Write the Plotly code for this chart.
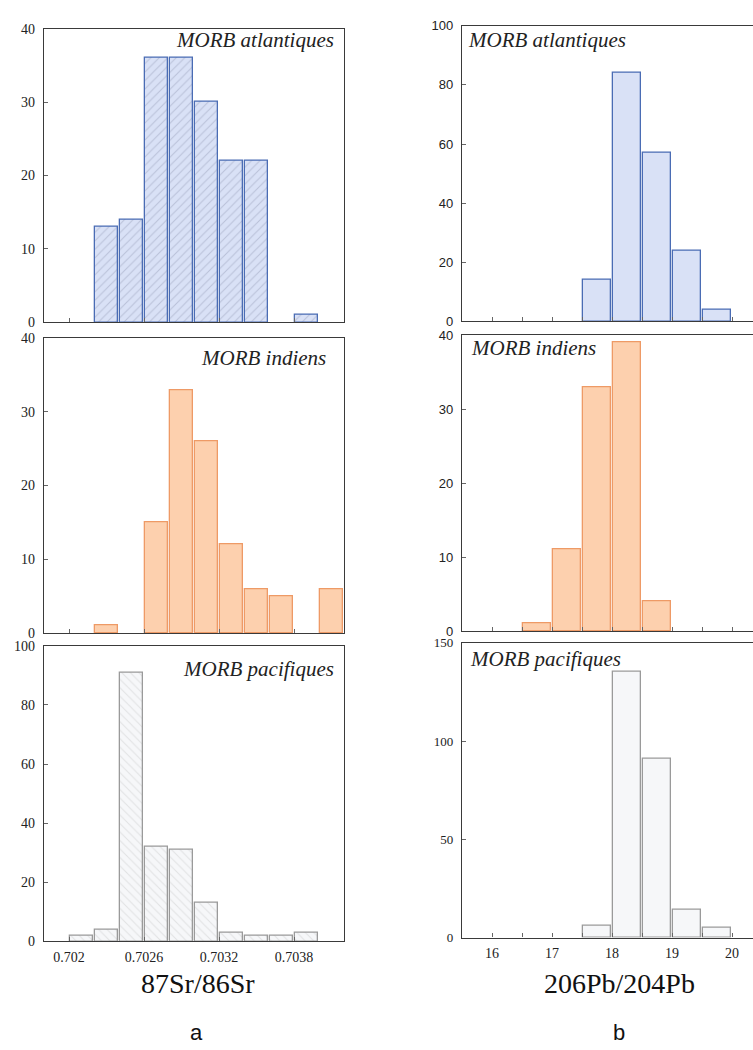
import plotly.graph_objects as go

# ---- 87Sr/86Sr : bins of 0.0002, lower edges ----
sr_bin_width = 0.0002
sr_edges = [0.7018, 0.7020, 0.7022, 0.7024, 0.7026, 0.7028,
            0.7030, 0.7032, 0.7034, 0.7036, 0.7038, 0.7040]
sr_atlantic = [0, 0, 13, 14, 36, 36, 30, 22, 22, 0, 1, 0]
sr_indian = [0, 0, 1, 0, 15, 33, 26, 12, 6, 5, 0, 6]
sr_pacific = [0, 2, 4, 91, 32, 31, 13, 3, 2, 2, 3, 0]
sr_ticks = [0.702, 0.7026, 0.7032, 0.7038]
sr_ticktext = ["0.702", "0.7026", "0.7032", "0.7038"]

# ---- 206Pb/204Pb : bins of 0.5, lower edges ----
pb_bin_width = 0.5
pb_edges = [15.5, 16.0, 16.5, 17.0, 17.5, 18.0, 18.5, 19.0, 19.5, 20.0]
pb_atlantic = [0, 0, 0, 0, 14, 84, 57, 24, 4, 0]
pb_indian = [0, 0, 1, 11, 33, 39, 4, 0, 0, 0]
pb_pacific = [0, 0, 0, 0, 6, 135, 91, 14, 5, 0]
pb_ticks = [16, 16.5, 17, 17.5, 18, 18.5, 19, 19.5, 20]
pb_ticktext = ["16", "", "17", "", "18", "", "19", "", "20"]

panel_names = ["MORB atlantiques", "MORB indiens", "MORB pacifiques"]
sr_ymax = [40, 40, 100]
pb_ymax = [100, 40, 150]
sr_ytick = [10, 10, 20]
pb_ytick = [20, 10, 50]

W, H = 753, 1050
SERIF = "Liberation Serif, Times New Roman, serif"
SANS = "Liberation Sans, Arial, sans-serif"

styles = [
    dict(fill="#d9e1f6", line="#4a6cb4", hatch="/", hatch_col="#9ba3bd"),
    dict(fill="#fdd0ae", line="#ee9a66", hatch="", hatch_col="#fdd0ae"),
    dict(fill="#f6f7f9", line="#9a9a9a", hatch="\\", hatch_col="#cdcdcd"),
]

# pixel boxes (left, right, top, bottom) for each panel
left_boxes = [(44, 344, 22, 320), (44, 344, 336, 635), (44, 344, 648, 948)]
right_boxes = [(462, 753, 19, 319), (462, 753, 333, 633), (462, 753, 645, 944)]
# label placement: (horizontal pixel, vertical centre offset from panel top)
left_label_pos = [(336, 11), (328, 20), (336, 24)]
right_label_pos = [(466, 14), (469, 13), (468, 16)]


def dom_x(a, b):
    return [a / W, b / W]


def dom_y(top, bottom):
    return [1 - bottom / H, 1 - top / H]


fig = go.Figure()
layout = {}
annotations = []


def add_panel(idx, edges, counts, width, box, style, use_hatch, xrange, ticks,
              ticktext, ymax, ystep, show_xlabels, ytick_font, ytick_size,
              label_pos, label_right, mirror_y):
    xa = "x" if idx == 1 else f"x{idx}"
    ya = "y" if idx == 1 else f"y{idx}"
    xs = [e + width / 2 for e, c in zip(edges, counts) if c > 0]
    ys = [c for c in counts if c > 0]
    pattern = dict(shape=style["hatch"] if use_hatch else "",
                   fgcolor=style["hatch_col"], bgcolor=style["fill"],
                   size=6, solidity=0.18)
    fig.add_trace(go.Bar(
        x=xs, y=ys, width=width * 0.91, xaxis=xa, yaxis=ya,
        marker=dict(color=style["fill"], pattern=pattern,
                    line=dict(color=style["line"], width=1.3)),
        showlegend=False,
    ))
    l, r, t, b = box
    axis_line = dict(showline=True, linecolor="#3a3a3a", linewidth=1.3,
                     showgrid=False, zeroline=False, ticks="inside",
                     ticklen=4, tickcolor="#666666", tickwidth=1)
    layout["xaxis" if idx == 1 else f"xaxis{idx}"] = dict(
        domain=dom_x(l, r), anchor=ya, range=xrange,
        tickvals=ticks, ticktext=ticktext, showticklabels=show_xlabels,
        tickfont=dict(family=SERIF, size=14, color="#222"),
        ticklabelstandoff=3, mirror=True, **axis_line)
    layout["yaxis" if idx == 1 else f"yaxis{idx}"] = dict(
        domain=dom_y(t, b), anchor=xa, range=[0, ymax],
        tickvals=list(range(0, ymax + 1, ystep)),
        tickfont=dict(family=ytick_font, size=ytick_size, color="#222"),
        ticklabelstandoff=5, mirror=mirror_y, **axis_line)
    name = panel_names[(idx - 1) % 3]
    px, dy = label_pos
    annotations.append(dict(
        text=f"<i>{name}</i>", xref="paper", yref="paper",
        x=px / W, y=1 - (t + dy) / H,
        xanchor="right" if label_right else "left", yanchor="middle",
        showarrow=False, font=dict(family=SERIF, size=21, color="#222")))


sr_series = [sr_atlantic, sr_indian, sr_pacific]
pb_series = [pb_atlantic, pb_indian, pb_pacific]

for i in range(3):
    add_panel(i + 1, sr_edges, sr_series[i], sr_bin_width, left_boxes[i],
              styles[i], True, [0.7018, 0.7042], sr_ticks, sr_ticktext,
              sr_ymax[i], sr_ytick[i], i == 2, SERIF, 14,
              left_label_pos[i], True, True)

pb_tickfonts = [SANS, SANS, SERIF]
for i in range(3):
    add_panel(i + 4, pb_edges, pb_series[i], pb_bin_width, right_boxes[i],
              styles[i], False, [15.5, 20.35], pb_ticks, pb_ticktext,
              pb_ymax[i], pb_ytick[i], i == 2, pb_tickfonts[i], 13,
              right_label_pos[i], False, False)


# axis titles and panel letters
def centred_text(text, x, y, family, size):
    return dict(text=text, x=x / W, y=1 - y / H, xref="paper", yref="paper",
                xanchor="center", yanchor="middle", showarrow=False,
                font=dict(family=family, size=size, color="#111"))


annotations += [
    centred_text("87Sr/86Sr", 198, 991, SERIF, 28),
    centred_text("206Pb/204Pb", 619, 991, SERIF, 28),
    centred_text("a", 196, 1040, SANS, 22),
    centred_text("b", 619, 1040, SANS, 22),
]

fig.update_layout(
    width=W, height=H, margin=dict(l=0, r=0, t=0, b=0),
    paper_bgcolor="white", plot_bgcolor="white",
    bargap=0, annotations=annotations, **layout,
)

fig.write_html("out.html")
